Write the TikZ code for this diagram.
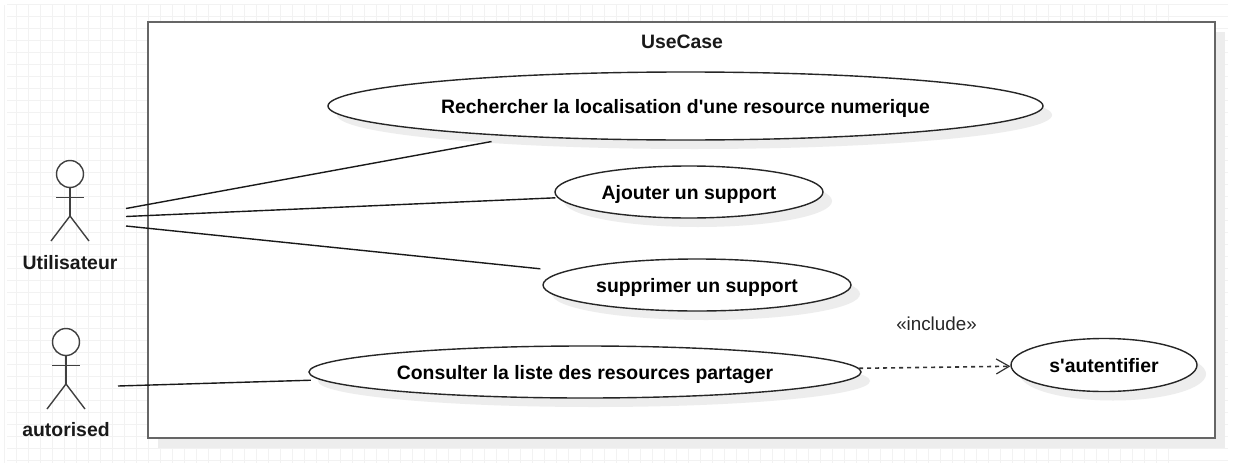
\documentclass[tikz,border=0pt]{standalone}
\usepackage{fontspec}
\newfontfamily\umlfont{Liberation Sans}
\usetikzlibrary{arrows.meta,shapes.geometric,shadows}
\tikzset{
  usecase/.style={ellipse, draw=black!85, line width=1.4pt, fill=white, inner sep=0pt, text height=15pt, text depth=0pt,
    font=\umlfont\fontsize{19.4}{22}\selectfont\bfseries,
    drop shadow={shadow xshift=9pt, shadow yshift=-9pt, fill=black!7, opacity=1}},
  actorlabel/.style={font=\umlfont\fontsize{19.4}{22}\selectfont\bfseries, text=black!90},
  assoc/.style={line width=1.4pt, black!90},
  stick/.style={line width=1.4pt, black!75}
}
\begin{document}
\begin{tikzpicture}[x=1pt, y=-1pt]
      \useasboundingbox (0,0) rectangle (1244,463);
      % Grid
      \foreach \gx in {5,...,102} \draw[line width=1pt, black!5] ({4.7+12*(\gx-5)},5) -- ({4.7+12*(\gx-5)},463);
      \foreach \gy in {0,...,38} \draw[line width=1pt, black!5] (7,{4.7+12*\gy}) -- (1228,{4.7+12*\gy});

      % System box
      \node[draw=black!60, line width=2pt, fill=white, minimum width=1067pt, minimum height=416pt, inner sep=0pt,
        drop shadow={shadow xshift=10pt, shadow yshift=-10pt, fill=black!7, opacity=1}] (system) at (681.5,230) {};
      \node[actorlabel] (title) at (682,42) {UseCase};

      % Use cases
      \node[usecase, minimum width=715pt, minimum height=68pt] (search) at (685.5,106) {Rechercher la localisation d'une resource numerique};
      \node[usecase, minimum width=268pt, minimum height=52pt] (add) at (689,192) {Ajouter un support};
      \node[usecase, minimum width=308pt, minimum height=52pt] (remove) at (697,285) {supprimer un support};
      \node[usecase, minimum width=552pt, minimum height=52pt] (consult) at (585,372) {Consulter la liste des resources partager};
      \node[usecase, minimum width=186pt, minimum height=53pt] (auth) at (1104,365) {s'autentifier};

      % Actors
      \foreach \ax/\ay in {70/174, 66/342} {
        \draw[stick, fill=white] (\ax,\ay) circle (13.5);
        \draw[stick] (\ax,\ay+13.5) -- (\ax,\ay+42);
        \draw[stick] (\ax-14,\ay+23.5) -- (\ax+14,\ay+23.5);
        \draw[stick] (\ax-19,\ay+67) -- (\ax,\ay+42) -- (\ax+19,\ay+67);
      }
      \node[actorlabel] (user) at (70,263) {Utilisateur};
      \node[actorlabel] (authorised) at (66,430) {autorised};
      \coordinate (userA) at (126,208.5);
      \coordinate (userB) at (126,216.5);
      \coordinate (userC) at (126,226);
      \coordinate (authorisedA) at (118,386);

      % Associations
      \draw[assoc, shorten >=27pt] (userA) -- (search);
      \draw[assoc, shorten >=2pt] (userB) -- (add);
      \draw[assoc, shorten >=24pt] (userC) -- (remove);
      \draw[assoc, shorten >=10pt] (authorisedA) -- (consult);

      % Include
      \draw[line width=1.6pt, black!80, dash pattern=on 4pt off 4pt, -{Straight Barb[length=13pt, width=15pt, line width=1.2pt]}] (consult) -- (auth);
      \node[font=\umlfont\fontsize{18.8}{22}\selectfont, text=black!85] (include) at (936.5,324) {«include»};
    \end{tikzpicture}
\end{document}
